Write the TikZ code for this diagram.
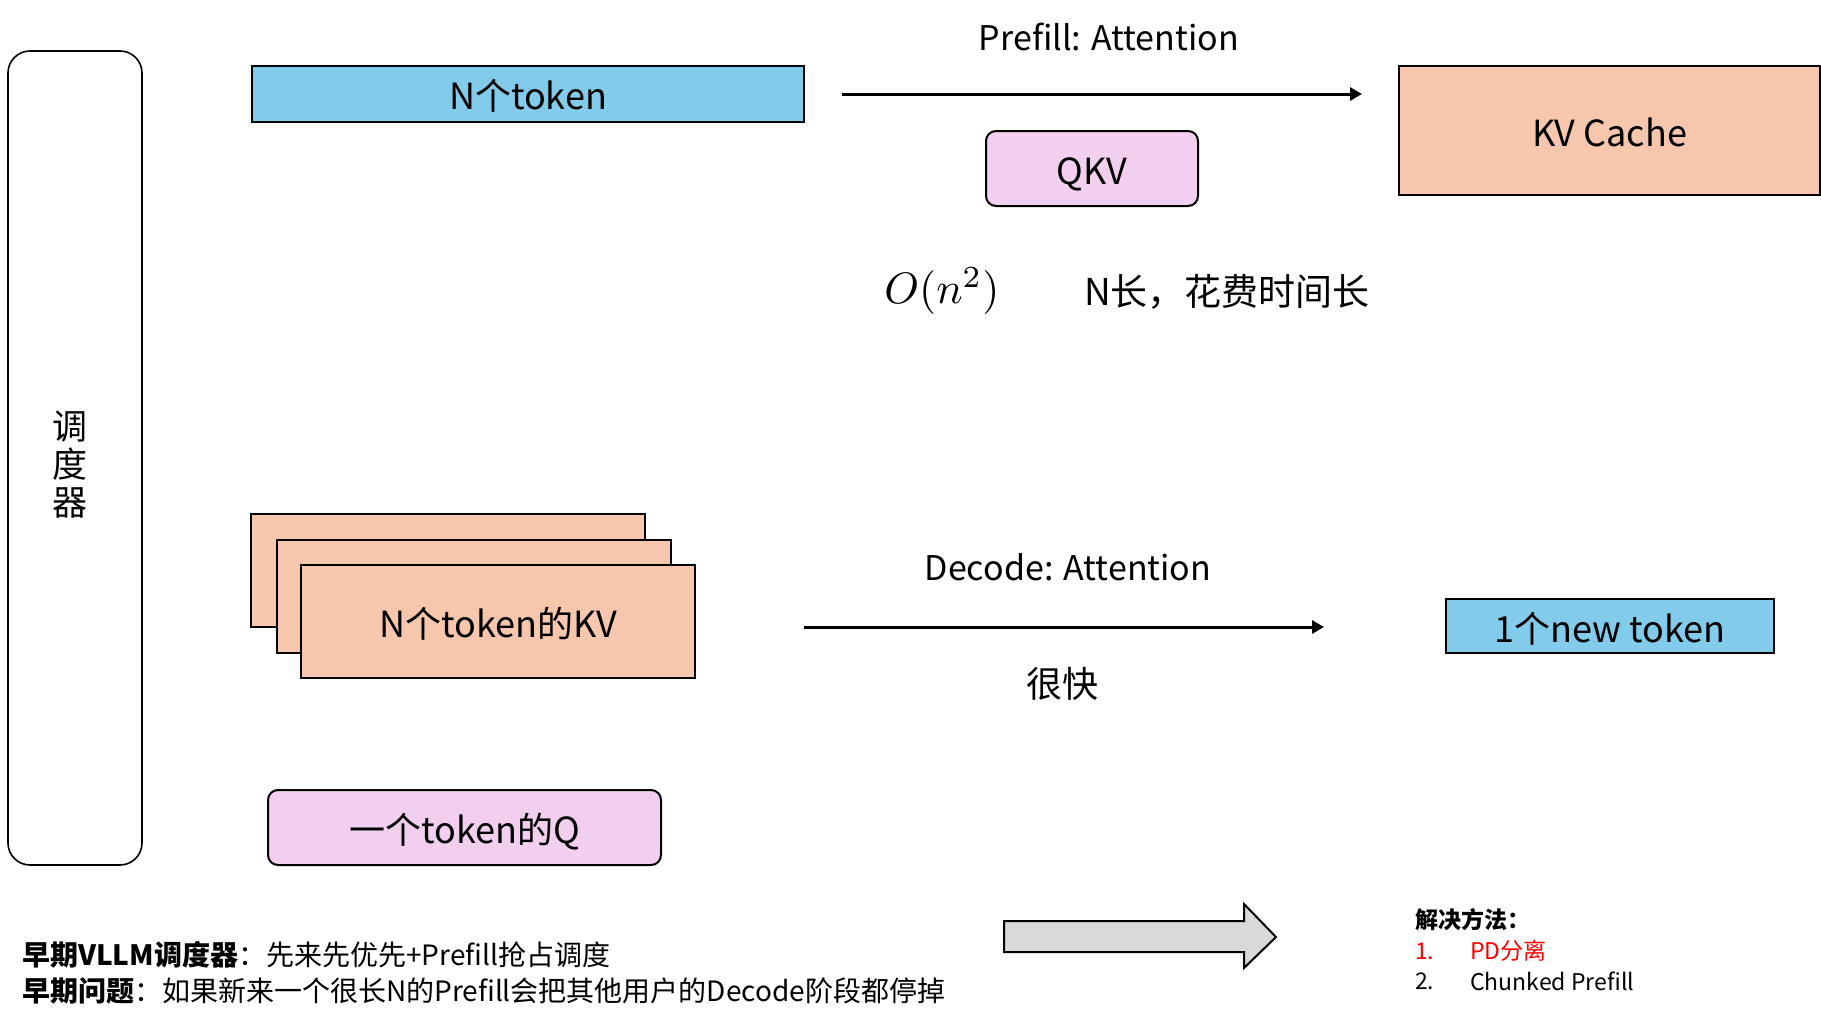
\documentclass[tikz,border=0pt]{standalone}
\usepackage{fontspec}
\setmainfont{Noto Sans CJK SC}
\usetikzlibrary{arrows.meta}
\definecolor{tokblue}{HTML}{83CBEB}
\definecolor{kvpeach}{HTML}{F6C6AD}
\definecolor{qpink}{HTML}{F2CFEE}
\definecolor{arrgray}{HTML}{D9D9D9}
\definecolor{solred}{HTML}{FF0000}
\tikzset{
  box/.style={draw=black, line width=2pt, inner sep=0pt, outer sep=0pt, text height=32pt, text depth=0pt, font=\fontsize{36}{42}\selectfont},
  bluebox/.style={box, fill=tokblue},
  peachbox/.style={box, fill=kvpeach},
  pinkbox/.style={box, fill=qpink, rounded corners=10pt},
  label/.style={inner sep=0pt, font=\fontsize{34}{40}\selectfont},
  flow/.style={line width=3pt, -{Triangle[length=12pt,width=13pt]}},
  note/.style={inner sep=0pt, anchor=west, font=\fontsize{28}{34}\selectfont},
  sol/.style={inner sep=0pt, anchor=west, font=\fontsize{23}{28}\selectfont},
}
\begin{document}
\begin{tikzpicture}[x=1pt,y=-1pt]
\useasboundingbox (0,0) rectangle (1821,1025);
% scheduler
\draw[line width=1.6pt, rounded corners=22pt] (8,51) rectangle (142,865);
\node[inner sep=0pt, align=center, font=\fontsize{35}{38}\selectfont] (sched) at (70,465) {调\\度\\器};
% prefill row
\node[bluebox, minimum width=552pt, minimum height=56pt] (ntok) at (528,94) {N个token};
\coordinate (pa) at (842,94);
\coordinate (pb) at (1362,94);
\draw[flow] (pa) -- (pb);
\node[label] (plab) at (1109,37) {Prefill: Attention};
\node[pinkbox, minimum width=212pt, minimum height=75pt] (qkv) at (1092,168.5) {QKV};
\node[peachbox, minimum width=421pt, minimum height=129pt] (kvc) at (1609.5,130.5) {KV Cache};
\node[inner sep=0pt, scale=4.4] (onn) at (942,291) {$O(n^2)$};
\node[inner sep=0pt, anchor=west, font=\fontsize{37}{42}\selectfont] (nlong) at (1084,292) {N长，花费时间长};
% decode row
\node[peachbox, minimum width=394pt, minimum height=113pt] (kv1) at (448,570.5) {};
\node[peachbox, minimum width=394pt, minimum height=113pt] (kv2) at (473.5,596) {};
\node[peachbox, minimum width=394pt, minimum height=113pt] (kv3) at (498,621) {N个token的KV};
\node[pinkbox, minimum width=393pt, minimum height=75pt] (oneq) at (464.5,827.5) {一个token的Q};
\coordinate (da) at (804,627);
\coordinate (db) at (1324,627);
\draw[flow] (da) -- (db);
\node[label] (dlab) at (1068,567) {Decode: Attention};
\node[label, font=\fontsize{36}{42}\selectfont] (fast) at (1062,684) {很快};
\node[bluebox, minimum width=328pt, minimum height=54pt] (newtok) at (1610,626) {1个new token};
% bottom notes
\node[note] (note1) at (22,955) {\textbf{早期VLLM调度器}：先来先优先+Prefill抢占调度};
\node[note] (note2) at (22,991) {\textbf{早期问题}：如果新来一个很长N的Prefill会把其他用户的Decode阶段都停掉};
% big arrow
\draw[line width=2pt, fill=arrgray, line join=miter] (1004,921) -- (1244,921) -- (1244,904) -- (1276,937) -- (1244,968) -- (1244,952) -- (1004,952) -- cycle;
% solutions
\node[sol, font=\bfseries\fontsize{23}{28}\selectfont] (solh) at (1415,920) {解决方法：};
\node[sol, text=solred] (s1n) at (1415,951) {1.};
\node[sol, text=solred] (s1) at (1470,951) {PD分离};
\node[sol] (s2n) at (1415,981) {2.};
\node[sol] (s2) at (1470,981) {Chunked Prefill};
\end{tikzpicture}
\end{document}
